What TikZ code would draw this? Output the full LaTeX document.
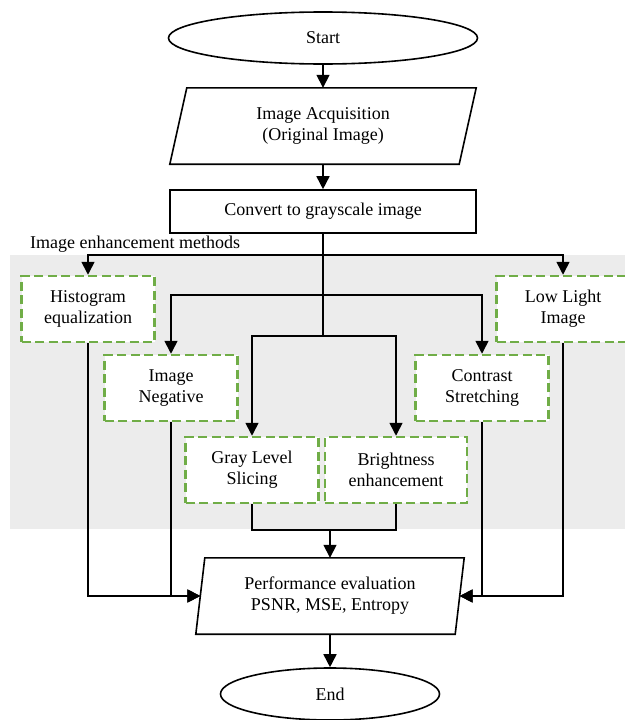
\documentclass[tikz,border=0pt]{standalone}
\usepackage{fontspec}
\setmainfont{Liberation Serif}
\usetikzlibrary{shapes.geometric,arrows.meta,calc}
\definecolor{dgreen}{HTML}{70AD47}
\definecolor{bggray}{HTML}{ECECEC}
\begin{document}
\begin{tikzpicture}[x=1pt,y=-1pt,
  every node/.style={font=\fontsize{18}{21}\selectfont, align=center},
  arr/.style={line width=1.6pt,-{Triangle[width=13pt,length=13pt]}},
  ln/.style={line width=1.6pt},
  term/.style={ellipse,draw,line width=1.6pt,fill=white,inner sep=0pt,minimum height=52pt},
  proc/.style={rectangle,draw,line width=1.6pt,fill=white,inner sep=0pt},
  ghost/.style={rectangle,inner sep=0pt},
  method/.style={rectangle,draw=dgreen,line width=2.5pt,dash pattern=on 9pt off 4.5pt,fill=white,inner sep=0pt,minimum width=133pt,minimum height=66pt}]
\useasboundingbox (0,0) rectangle (624,720);
\fill[bggray] (10,255) rectangle (630,529);

\node[term,minimum width=309pt] (start) at (323,38) {Start};
\node[ghost,minimum width=306pt,minimum height=76pt] (acq) at (323,126) {};
\draw[line width=1.6pt,fill=white] ($(acq.north west)+(17,0)$) -- (acq.north east) -- ($(acq.south east)+(-17,0)$) -- (acq.south west) -- cycle;
\node at (acq.center) {Image Acquisition\\(Original Image)};
\node[proc,minimum width=306pt,minimum height=43pt] (conv) at (323,211.5) {Convert to grayscale image};
\node[anchor=west,inner sep=0pt] (lbl) at (30,244) {Image enhancement methods};

\node[method] (hist) at (88,309) {Histogram\\equalization};
\node[method] (low) at (563,309) {Low Light\\Image};
\node[method] (neg) at (171,388) {Image\\Negative};
\node[method] (con) at (482,388) {Contrast\\Stretching};
\node[method] (gray) at (252,470) {Gray Level\\Slicing};
\node[method,minimum width=142pt] (bri) at (396,470) {Brightness\\enhancement};

\node[ghost,minimum width=268pt,minimum height=76pt] (perf) at (330,596) {};
\draw[line width=1.6pt,fill=white] ($(perf.north west)+(9,0)$) -- (perf.north east) -- ($(perf.south east)+(-9,0)$) -- (perf.south west) -- cycle;
\node at (perf.center) {Performance evaluation\\PSNR, MSE, Entropy};
\node[term,minimum width=219pt] (end) at (330,694) {End};

\coordinate (j1) at (323,255);
\coordinate (j2) at (323,295);
\coordinate (j3) at (323,336);
\coordinate (j4) at (330,530);
\coordinate (pl) at ($(perf.west)+(4.5,0)$);
\coordinate (pr) at ($(perf.east)+(-4.5,0)$);

\draw[arr] (start) -- (acq.north);
\draw[arr] (acq.south) -- (conv.north);
\draw[ln] (conv.south) -- (j3);
\draw[arr] (j1) -| (hist.north);
\draw[arr] (j1) -| (low.north);
\draw[arr] (j2) -| (neg.north);
\draw[arr] (j2) -| (con.north);
\draw[arr] (j3) -| (gray.north);
\draw[arr] (j3) -| (bri.north);
\draw[ln] (gray.south) |- (j4);
\draw[ln] (bri.south) |- (j4);
\draw[arr] (j4) -- (perf.north);
\draw[arr] (hist.south) |- (pl);
\draw[arr] (neg.south) |- (pl);
\draw[arr] (low.south) |- (pr);
\draw[arr] (con.south) |- (pr);
\draw[arr] (perf.south) -- (end.north);
\end{tikzpicture}
\end{document}
